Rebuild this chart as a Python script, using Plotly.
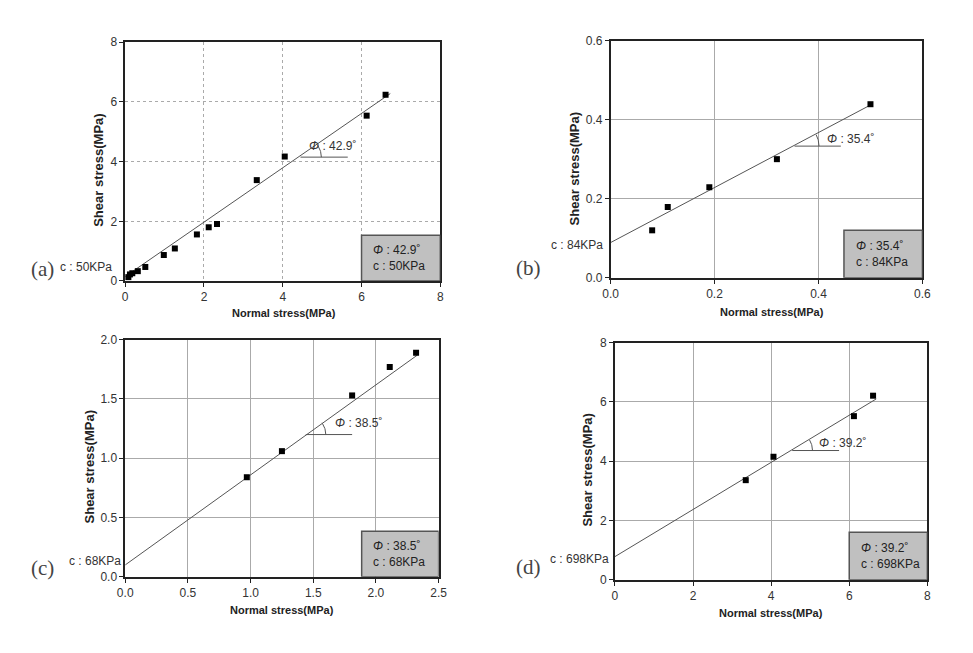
import math
import plotly.graph_objects as go

W, H = 973, 653

# ---------------- data ----------------
a_normal = [0.08, 0.12, 0.18, 0.32, 0.51, 0.98, 1.26, 1.82, 2.12, 2.33, 3.34, 4.05, 6.13, 6.61]
a_shear = [0.13, 0.22, 0.26, 0.33, 0.47, 0.87, 1.09, 1.56, 1.80, 1.91, 3.38, 4.17, 5.54, 6.24]
a_fit_x = [0.0, 6.73]
a_fit_y = [0.15, 6.28]

b_normal = [0.080, 0.110, 0.190, 0.320, 0.500]
b_shear = [0.120, 0.179, 0.229, 0.300, 0.439]
b_fit_x = [0.0, 0.50]
b_fit_y = [0.089, 0.437]

c_normal = [0.97, 1.25, 1.81, 2.11, 2.32]
c_shear = [0.84, 1.06, 1.53, 1.77, 1.89]
c_fit_x = [0.0, 2.33]
c_fit_y = [0.10, 1.87]

d_normal = [3.35, 4.06, 6.12, 6.61]
d_shear = [3.36, 4.15, 5.52, 6.21]
d_fit_x = [0.0, 6.69]
d_fit_y = [0.78, 6.10]

panel_labels = ["(a)", "(b)", "(c)", "(d)"]
phi_values = ["42.9", "35.4", "38.5", "39.2"]
c_values = ["50KPa", "84KPa", "68KPa", "698KPa"]

x_ranges = [[0, 8], [0, 0.6], [0, 2.5], [0, 8]]
y_ranges = [[0, 8], [0, 0.6], [0, 2.0], [0, 8]]
x_dtick = [2, 0.2, 0.5, 2]
y_dtick = [2, 0.2, 0.5, 2]
x_fmt = ["d", ".1f", ".1f", "d"]
y_fmt = ["d", ".1f", ".1f", "d"]

# ---------------- layout geometry (pixels) ----------------
boxes = [
    (119.3, 440.0, 36.0, 280.0),
    (613.3, 930.7, 34.3, 276.7),
    (119.3, 438.3, 340.0, 582.3),
    (617.7, 935.7, 343.0, 585.3),
]
angle_marks = [
    (4.45, 5.65, 4.15, 4.98),
    (0.354, 0.443, 0.333, 0.401),
    (1.44, 1.81, 1.20, 1.60),
    (4.54, 5.74, 4.36, 5.06),
]
angle_text_pos = [(4.62, 4.52), (0.412, 0.352), (1.66, 1.30), (5.18, 4.61)]
result_box = [(6.0, 1.53), (0.449, 0.120), (1.886, 0.385), (6.0, 1.60)]
label_pos = [(35, 268), (530, 267), (35, 573), (530, 572)]
c_label_pos = [(108, 266), (608, 243), (117, 566), (614, 564)]
ytitle_pos = [(92, 167), (577, 165), (83, 470), (590, 473)]
xtitle_pos = [(281, 313), (778, 312), (279, 616), (777, 619)]

normals = [a_normal, b_normal, c_normal, d_normal]
shears = [a_shear, b_shear, c_shear, d_shear]
fits_x = [a_fit_x, b_fit_x, c_fit_x, d_fit_x]
fits_y = [a_fit_y, b_fit_y, c_fit_y, d_fit_y]

fig = go.Figure()
layout = dict(
    width=W, height=H, margin=dict(l=0, r=0, t=0, b=0),
    paper_bgcolor="white", plot_bgcolor="white", showlegend=False,
    font=dict(family="Arial, Liberation Sans, sans-serif", color="#333"),
)
annotations = []
shapes = []


def px(x):
    return x / W


def py(y):
    return 1 - y / H


for i in range(4):
    sfx = "" if i == 0 else str(i + 1)
    xa, ya = "x" + sfx, "y" + sfx
    l, r, t, b = boxes[i]
    dashed = (i == 0)
    grid_style = "3px,3px" if dashed else "solid"
    layout["xaxis" + sfx] = dict(
        domain=[px(l), px(r)], range=x_ranges[i], anchor=ya, dtick=x_dtick[i], tick0=0,
        tickformat=x_fmt[i], showgrid=True, gridcolor="#aaaaaa", griddash=grid_style,
        gridwidth=1, showline=True, linecolor="#222", linewidth=1.5, mirror=True,
        ticks="outside", ticklen=4, tickcolor="#222", zeroline=False,
        tickfont=dict(size=12, color="#333"), fixedrange=True,
    )
    layout["yaxis" + sfx] = dict(
        domain=[py(b), py(t)], range=y_ranges[i], anchor=xa, dtick=y_dtick[i], tick0=0,
        tickformat=y_fmt[i], showgrid=True, gridcolor="#aaaaaa", griddash=grid_style,
        gridwidth=1, showline=True, linecolor="#222", linewidth=1.5, mirror=True,
        ticks="outside", ticklen=4, tickcolor="#222", zeroline=False,
        tickfont=dict(size=12, color="#333"), fixedrange=True,
    )

    sx = (r - l) / (x_ranges[i][1] - x_ranges[i][0])
    sy = (b - t) / (y_ranges[i][1] - y_ranges[i][0])

    bx0, btop = result_box[i]
    shapes.append(dict(type="rect", xref=xa, yref=ya, x0=bx0, x1=x_ranges[i][1], y0=0, y1=btop,
                       fillcolor="#c0c0c0", line=dict(color="#555", width=1.5), layer="above"))
    annotations.append(dict(
        xref=xa, yref=ya, x=bx0 + 10 / sx, y=btop / 2, xanchor="left", yanchor="middle", showarrow=False,
        align="left",
        text="<i>Φ</i> : " + phi_values[i] + "˚<br>c : " + c_values[i],
        font=dict(size=12, color="#222"),
    ))

    fig.add_trace(go.Scatter(x=fits_x[i], y=fits_y[i], mode="lines", xaxis=xa, yaxis=ya,
                             line=dict(color="#555", width=1), hoverinfo="skip"))
    fig.add_trace(go.Scatter(x=normals[i], y=shears[i], mode="markers", xaxis=xa, yaxis=ya,
                             marker=dict(symbol="square", size=6, color="black"), cliponaxis=False))

    hx0, hx1, hy, arcx = angle_marks[i]
    fig.add_trace(go.Scatter(x=[hx0, hx1], y=[hy, hy], mode="lines", xaxis=xa, yaxis=ya,
                             line=dict(color="#555", width=1), hoverinfo="skip"))
    slope = (fits_y[i][1] - fits_y[i][0]) / (fits_x[i][1] - fits_x[i][0])
    theta = math.atan(slope * sy / sx)
    rad = (arcx - hx0) * sx
    n = 20
    arc_x = [hx0 + rad * math.cos(theta * k / n) / sx for k in range(n + 1)]
    arc_y = [hy + rad * math.sin(theta * k / n) / sy for k in range(n + 1)]
    fig.add_trace(go.Scatter(x=arc_x, y=arc_y, mode="lines", xaxis=xa, yaxis=ya,
                             line=dict(color="#555", width=1), hoverinfo="skip"))
    tx, ty = angle_text_pos[i]
    annotations.append(dict(xref=xa, yref=ya, x=tx, y=ty, xanchor="left", yanchor="middle",
                            showarrow=False, text="<i>Φ</i> : " + phi_values[i] + "˚",
                            font=dict(size=12, color="#333")))

    lx, ly = label_pos[i]
    annotations.append(dict(xref="paper", yref="paper", x=px(lx), y=py(ly), xanchor="center",
                            yanchor="middle", showarrow=False, text=panel_labels[i],
                            font=dict(family="Liberation Serif, DejaVu Serif, serif", size=21, color="#444")))
    cx_, cy_ = c_label_pos[i]
    annotations.append(dict(xref="paper", yref="paper", x=px(cx_), y=py(cy_), xanchor="right",
                            yanchor="middle", showarrow=False, text="c : " + c_values[i],
                            font=dict(size=12, color="#333")))
    yx, yy = ytitle_pos[i]
    annotations.append(dict(xref="paper", yref="paper", x=px(yx), y=py(yy), xanchor="center",
                            yanchor="middle", showarrow=False, text="<b>Shear stress(MPa)</b>",
                            textangle=-90, font=dict(size=13, color="#222")))
    xx, xy = xtitle_pos[i]
    annotations.append(dict(xref="paper", yref="paper", x=px(xx), y=py(xy), xanchor="center",
                            yanchor="middle", showarrow=False, text="<b>Normal stress(MPa)</b>",
                            font=dict(size=11, color="#222")))

layout["annotations"] = annotations
layout["shapes"] = shapes
fig.update_layout(**layout)
fig.write_html("out.html")
